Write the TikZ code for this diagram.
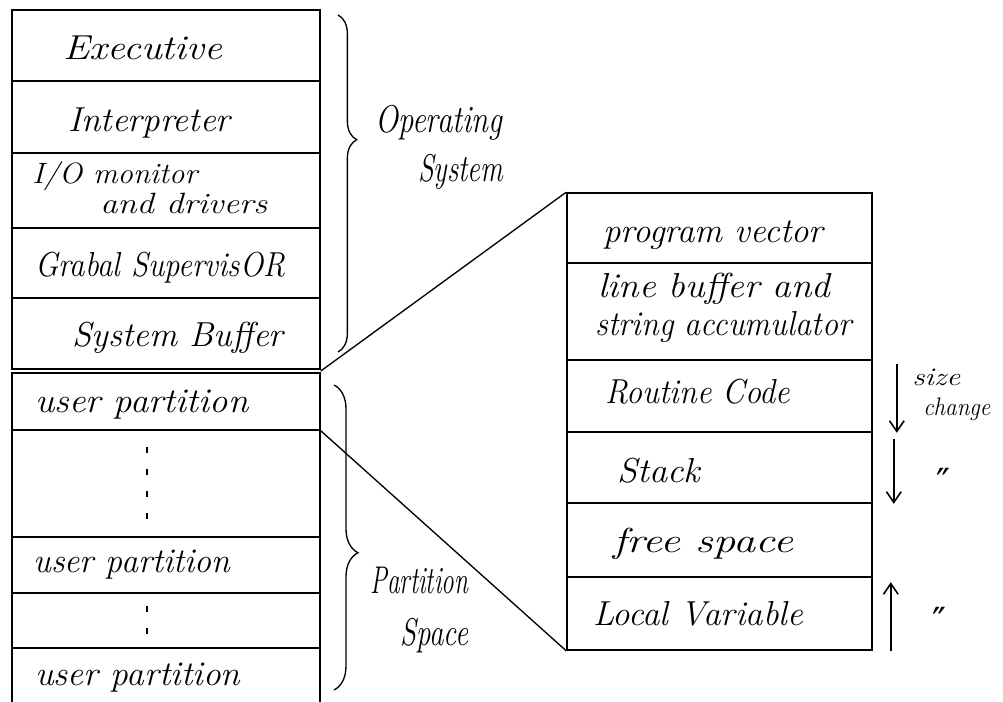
\documentclass[tikz,border=0pt]{standalone}
\usepackage{fontspec}
\usepackage{graphicx}
\usetikzlibrary{fit,calc,decorations.pathreplacing,arrows.meta}
\newfontfamily\symfont{DejaVu Sans}
\newdimen\unitpx \unitpx=0.75pt
% set a label at a given width (in px units), keeping its natural height
\newcommand\hw[2]{\resizebox{#1\unitpx}{\height}{#2}}
% one memory cell: name, x1, y1, x2, y2
\newcommand\memcell[5]{\node[cell, fit={(#2,#3) (#4,#5)}] (#1) {};}

\tikzset{
  cell/.style={draw, rectangle, line width=1.2pt, inner sep=0pt},
  hand/.style={anchor=base west, inner sep=0pt, font=\fontsize{26}{30}\selectfont\itshape},
  handsmall/.style={hand, font=\fontsize{22}{26}\selectfont\itshape},
  handbig/.style={hand, font=\fontsize{29}{32}\selectfont\itshape},
  note/.style={anchor=base west, inner sep=0pt, font=\fontsize{19}{22}\selectfont\itshape},
  ditto/.style={inner sep=0pt, font=\symfont\fontsize{28}{30}\selectfont},
  brc/.style={decorate, line width=1pt},
  link/.style={line width=1pt},
  arr/.style={line width=1.2pt, -{Straight Barb[length=8pt,width=11pt]}},
  gapmark/.style={line width=1.3pt, dash pattern=on 4.5pt off 12pt},
}

\begin{document}
\begin{tikzpicture}[x=0.75pt, y=-0.75pt]
\fill[white] (0,0) rectangle (1003,702);
\useasboundingbox (0,0) rectangle (1003,702);

% main memory column
\memcell{exe}{12}{10}{320}{81}
\memcell{int}{12}{81}{320}{153}
\memcell{io}{12}{153}{320}{228}
\memcell{gs}{12}{228}{320}{298}
\memcell{sb}{12}{298}{320}{369}
\memcell{up1}{12}{373}{320}{430}
\memcell{gap1}{12}{430}{320}{537}
\memcell{up2}{12}{537}{320}{593}
\memcell{gap2}{12}{593}{320}{648}
\memcell{up3}{12}{648}{320}{704}

\node[hand] (t-exe) at (63,60) {\hw{159}{Executive}};
\node[hand] (t-int) at (68,132) {\hw{162}{Interpreter}};
\node[handsmall] (t-io1) at (32,184) {\hw{165}{I/O monitor}};
\node[handsmall] (t-io2) at (100,214) {\hw{167}{and drivers}};
\node[hand] (t-gs) at (35,277) {\hw{250}{Grabal SupervisOR}};
\node[hand] (t-sb) at (72,346) {\hw{211}{System Buffer}};
\node[hand] (t-up1) at (35,412) {\hw{213}{user partition}};
\node[hand] (t-up2) at (33,572) {\hw{197}{user partition}};
\node[hand] (t-up3) at (35,685) {\hw{205}{user partition}};

% continuation marks in the gaps
\draw[gapmark] ($(gap1.north)+(-19,18)$) -- ($(gap1.south)+(-19,-16)$);
\draw[gapmark] ($(gap2.north)+(-19,14)$) -- ($(gap2.south)+(-19,-11)$);

% braces and their labels
\draw[brc, decoration={brace, amplitude=14pt, aspect=0.37}] (338,15) -- (338,352);
\node[handbig] (t-os1) at (375,133) {\hw{127}{Operating}};
\node[handbig] (t-os2) at (418,182) {\hw{85}{System}};
\draw[brc, decoration={brace, amplitude=18pt, aspect=0.55}] (334,385) -- (334,690);
\node[handbig] (t-ps1) at (370,593) {\hw{98}{Partition}};
\node[handbig] (t-ps2) at (400,645) {\hw{68}{Space}};

% expanded user partition
\memcell{pv}{567}{193}{872}{263}
\memcell{lb}{567}{263}{872}{360}
\memcell{rc}{567}{360}{872}{432}
\memcell{st}{567}{432}{872}{503}
\memcell{fs}{567}{503}{872}{577}
\memcell{lv}{567}{577}{872}{650}

\node[hand] (t-pv) at (603,243) {\hw{220}{program vector}};
\node[hand] (t-lb1) at (598,298) {\hw{232}{line buffer and}};
\node[hand] (t-lb2) at (595,335) {\hw{256}{string accumulator}};
\node[hand] (t-rc) at (605,403) {\hw{185}{Routine Code}};
\node[hand] (t-st) at (617,482) {\hw{83}{Stack}};
\node[hand] (t-fs) at (613,552) {\hw{180}{free space}};
\node[hand] (t-lv) at (593,625) {\hw{210}{Local Variable}};

% zoom lines from the partition to its layout
\coordinate (split) at ($(sb.south east)!0.5!(up1.north east)$);
\draw[link] (split) -- (pv.north west);
\draw[link] (up1.south east) -- (lv.south west);

% growth directions
\draw[arr] ($(rc.north east)+(24,5)$) -- ($(rc.south east)+(24,0)$);
\draw[arr] ($(st.north east)+(21,8)$) -- ($(st.south east)+(21,0)$);
\draw[arr] ($(lv.south east)+(18,0)$) -- ($(lv.north east)+(18,6)$);
\node[note] (t-sz1) at (912,385) {\hw{48}{size}};
\node[note] (t-sz2) at (923,415) {\hw{67}{change}};
\node[ditto] (d1) at (943,482) {″};
\node[ditto] (d2) at (939,621) {″};
\end{tikzpicture}
\end{document}
